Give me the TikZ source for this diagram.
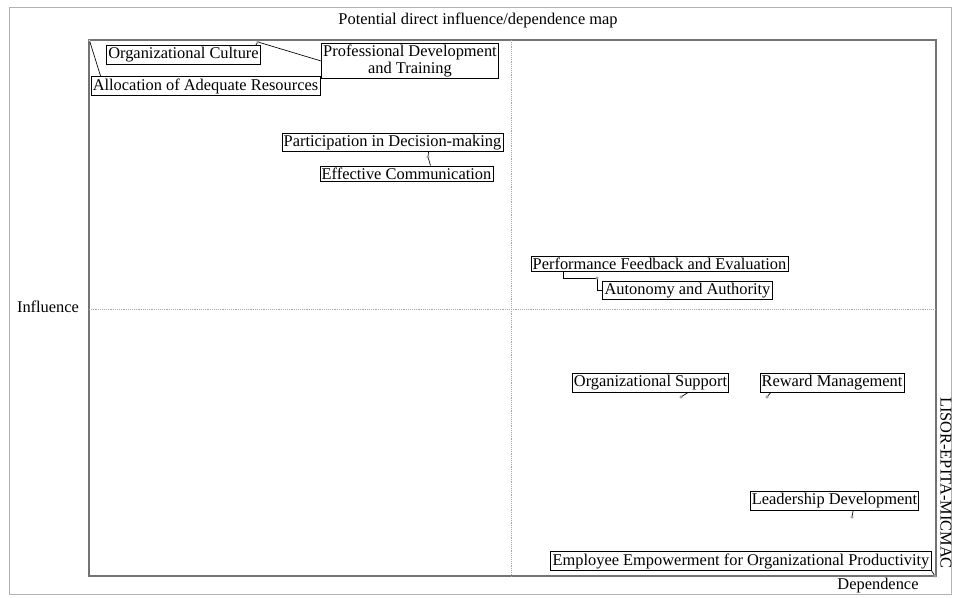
\documentclass[tikz,border=0pt]{standalone}
\usepackage{fontspec}
\setmainfont{Liberation Serif}
\tikzset{
  lbl/.style={draw=black,line width=0.6pt,fill=white,inner sep=1.3pt,font=\fontsize{12.3}{12.6}\selectfont},
  pt/.style={draw=gray,fill=white,line width=0.4pt},
  lead/.style={black,line width=0.5pt},
  axtxt/.style={font=\fontsize{12.3}{13}\selectfont}
}
\begin{document}
\begin{tikzpicture}[x=0.75pt,y=-0.75pt]
\useasboundingbox (0,0) rectangle (957,597);
% frames
\draw[gray!60,line width=0.6pt] (9,7) rectangle (951,594);
\draw[black!55,line width=0.8pt] (89,40) rectangle (936,576);
\draw[gray!70,densely dotted,line width=0.4pt] (511,40) -- (511,576);
\draw[gray!70,densely dotted,line width=0.4pt] (89,309) -- (936,309);
% axis texts
\node[axtxt] (title) at (478,20) {Potential direct influence/dependence map};
\node[axtxt] (infl) at (48,307) {Influence};
\node[axtxt] (dep) at (878,586) {Dependence};
\node[axtxt,rotate=-90] (soft) at (946,483) {LISOR-EPITA-MICMAC};
% variable points
\coordinate (pAAR) at (89.5,40.5);
\coordinate (pOC) at (258,42);
\coordinate (pPDT) at (258,42);
\coordinate (pPDM) at (428,157);
\coordinate (pEC) at (428,157);
\coordinate (pPFE) at (597,278);
\coordinate (pAA) at (597,278);
\coordinate (pOS) at (681,397);
\coordinate (pRM) at (767,397);
\coordinate (pLD) at (852,517);
\coordinate (pEE) at (935,576);
% labels
\node[lbl] (aar) at (205.5,86) {Allocation of Adequate Resources};
\node[lbl] (oc) at (183.5,55) {Organizational Culture};
\node[lbl,align=center] (pdt) at (410,61) {Professional Development\\and Training};
\node[lbl] (pdm) at (392.5,142.5) {Participation in Decision-making};
\node[lbl] (ec) at (406.5,173.5) {Effective Communication};
\node[lbl] (pfe) at (659.5,263.5) {Performance Feedback and Evaluation};
\node[lbl] (aa) at (687.5,290.5) {Autonomy and Authority};
\node[lbl] (os) at (650.5,383) {Organizational Support};
\node[lbl] (rm) at (832,383) {Reward Management};
\node[lbl] (ld) at (834.5,501) {Leadership Development};
\node[lbl] (ee) at (741,561) {Employee Empowerment for Organizational Productivity};
% leaders
\draw[lead] (pAAR) -- ([xshift=7.5pt]aar.north west);
\draw[lead] (pOC) -- ([xshift=-4pt]oc.north east);
\draw[lead] (pPDT) -- (pdt.west);
\draw[lead] (pPDM) -- ([xshift=27pt]pdm.south);
\draw[lead] (pEC) -- ([xshift=18pt]ec.north);
\draw[lead] ([xshift=-72pt]pfe.south) |- (pPFE);
\draw[lead] (pAA) |- (aa.west);
\draw[lead] (pOS) -- ([xshift=28pt]os.south);
\draw[lead] (pRM) -- ([xshift=-46pt]rm.south);
\draw[lead] (pLD) -- ([xshift=14pt]ld.south);
\draw[lead] (pEE) -- (ee.south east);
\foreach \p in {pAAR,pOC,pPDM,pPFE,pOS,pRM,pLD,pEE}
  \draw[pt] (\p) circle (1.3);
\end{tikzpicture}
\end{document}
